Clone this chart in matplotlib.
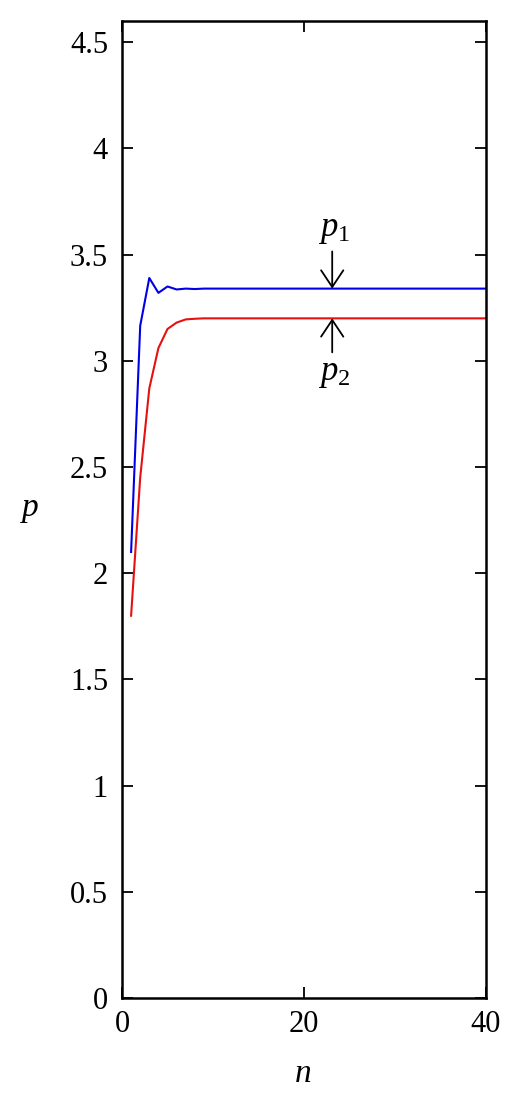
import matplotlib
matplotlib.use("Agg")
import matplotlib.pyplot as plt

n = list(range(1, 41))
p1 = [2.10, 3.165, 3.39, 3.32, 3.35, 3.336, 3.340, 3.338, 3.340, 3.340,
      3.340, 3.340, 3.340, 3.340, 3.340, 3.340, 3.340, 3.340, 3.340, 3.340,
      3.340, 3.340, 3.340, 3.340, 3.340, 3.340, 3.340, 3.340, 3.340, 3.340,
      3.340, 3.340, 3.340, 3.340, 3.340, 3.340, 3.340, 3.340, 3.340, 3.340]
p2 = [1.80, 2.45, 2.87, 3.06, 3.15, 3.18, 3.195, 3.198, 3.200, 3.200,
      3.200, 3.200, 3.200, 3.200, 3.200, 3.200, 3.200, 3.200, 3.200, 3.200,
      3.200, 3.200, 3.200, 3.200, 3.200, 3.200, 3.200, 3.200, 3.200, 3.200,
      3.200, 3.200, 3.200, 3.200, 3.200, 3.200, 3.200, 3.200, 3.200, 3.200]
xticks = [0, 20, 40]
yticks = [0, 0.5, 1, 1.5, 2, 2.5, 3, 3.5, 4, 4.5]
ytick_labels = ["0", "0.5", "1", "1.5", "2", "2.5", "3", "3.5", "4", "4.5"]
arrow_n = 23.1

plt.rcParams['font.family'] = ['Liberation Serif', 'DejaVu Serif']
plt.rcParams['mathtext.fontset'] = 'custom'
plt.rcParams['mathtext.rm'] = 'Liberation Serif'
plt.rcParams['mathtext.it'] = 'Liberation Serif:italic'

fig = plt.figure(figsize=(5.19, 11.12), dpi=100)
ax = fig.add_axes([122/519, (1112-998)/1112, (486-122)/519, (998-21)/1112])

ax.plot(n, p1, color='#0000e6', lw=1.5)
ax.plot(n, p2, color='#e61010', lw=1.5)

ax.set_xlim(0, 40)
ax.set_ylim(0, 4.6)
ax.set_xticks(xticks)
ax.set_yticks(yticks)
ax.set_yticklabels(ytick_labels)
ax.tick_params(direction='in', length=8, width=1.3, labelsize=22,
               top=True, right=True, colors='black')
ax.tick_params(axis='y', pad=10)
ax.tick_params(axis='x', pad=9)
for s in ax.spines.values():
    s.set_linewidth(1.8)

fig.text(303/519, 1 - 1074/1112, '$n$', fontsize=24, ha='center', va='center')
fig.text(30/519, 1 - 510/1112, '$p$', fontsize=24, ha='center', va='center')

head = '->, head_length=0.3, head_width=0.2'
ax.annotate('', xy=(arrow_n, p1[-1]), xytext=(arrow_n, p1[-1] + 0.175),
            arrowprops=dict(arrowstyle=head, lw=1.3, color='black',
                            mutation_scale=40, shrinkA=0, shrinkB=0))
ax.text(arrow_n + 0.2, p1[-1] + 0.2, '$p_1$', fontsize=25, ha='center', va='bottom')
ax.annotate('', xy=(arrow_n, p2[-1]), xytext=(arrow_n, p2[-1] - 0.16),
            arrowprops=dict(arrowstyle=head, lw=1.3, color='black',
                            mutation_scale=40, shrinkA=0, shrinkB=0))
ax.text(arrow_n + 0.2, p2[-1] - 0.18, '$p_2$', fontsize=25, ha='center', va='top')

fig.savefig('out.png', dpi=100)
